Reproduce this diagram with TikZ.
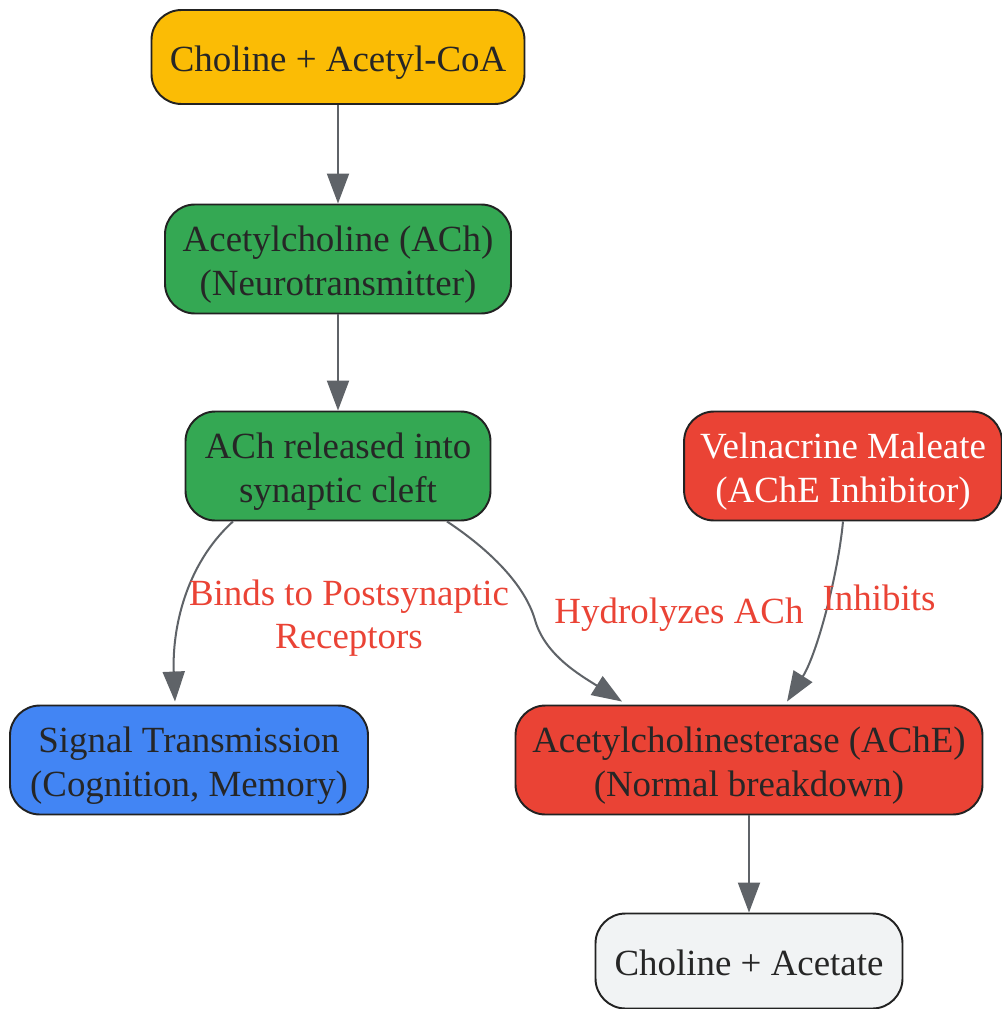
\documentclass[tikz,border=0pt]{standalone}
\usepackage{fontspec}
\setmainfont{Liberation Serif}
\usetikzlibrary{arrows.meta}
\definecolor{achyellow}{HTML}{FBBC05}
\definecolor{achgreen}{HTML}{34A853}
\definecolor{achblue}{HTML}{4285F4}
\definecolor{achred}{HTML}{EA4335}
\definecolor{achgray}{HTML}{F1F3F4}
\definecolor{achline}{HTML}{5F6368}
\definecolor{achborder}{HTML}{222222}
\definecolor{achtext}{HTML}{262626}
\newcommand{\boxstrut}{\rule[-4.6pt]{0pt}{25.6pt}}

\begin{document}
\begin{tikzpicture}[
    box/.style={draw=achborder, line width=1.1pt, rounded corners=0.6cm, align=center, inner xsep=0.32cm, text=achtext, minimum height=2.18cm, font=\fontsize{21}{24.6}\selectfont},
    flow/.style={draw=achline, line width=1.15pt, -{Triangle[length=0.6cm, width=0.44cm]}},
    edgelabel/.style={text=achred, align=center, font=\fontsize{21}{24.4}\selectfont}
]
    \useasboundingbox (0,0) rectangle (20.02,-20.18);

    % Synthesis
    \node[box, fill=achyellow, minimum height=1.88cm, minimum width=7.46cm] (cholacetyl) at (6.76,-1.14) {\boxstrut Choline + Acetyl-CoA};
    \node[box, fill=achgreen, minimum width=6.92cm] (ach) at (6.76,-5.18) {\boxstrut Acetylcholine (ACh)\\(Neurotransmitter)};
    \node[box, fill=achgreen, minimum width=6.1cm] (release) at (6.76,-9.32) {\boxstrut ACh released into\\synaptic cleft};

    % Inhibitor
    \node[box, fill=achred, text=white, minimum width=6.3cm] (velnacrine) at (16.86,-9.32) {\boxstrut Velnacrine Maleate\\(AChE Inhibitor)};

    % Targets
    \node[box, fill=achblue, minimum width=7.16cm] (signal) at (3.78,-15.2) {\boxstrut Signal Transmission\\(Cognition, Memory)};
    \node[box, fill=achred, minimum width=9.34cm] (ache) at (14.98,-15.2) {\boxstrut Acetylcholinesterase (AChE)\\(Normal breakdown)};
    \node[box, fill=achgray, minimum height=1.9cm, minimum width=6.14cm] (products) at (14.98,-19.22) {\boxstrut Choline + Acetate};

    % Connections
    \draw[flow] (cholacetyl) -- (ach);
    \draw[flow] (ach) -- (release);
    \draw[flow] ([xshift=-2.1cm]release.south) .. controls (3.7,-11.3) and (3.44,-12.6) .. ([xshift=-0.28cm, yshift=0.06cm]signal.north);
    \draw[flow] ([xshift=2.18cm]release.south) .. controls (9.8,-11.0) and (10.5,-11.7) .. (10.7,-12.4) .. controls (10.9,-13.1) and (11.6,-13.5) .. ([xshift=-2.54cm, yshift=0.06cm]ache.north);
    \draw[flow] (velnacrine.south) .. controls (16.76,-11.5) and (16.34,-13.08) .. ([xshift=0.76cm, yshift=0.06cm]ache.north);
    \draw[flow] (ache) -- (products);

    % Labels
    \node[edgelabel] (bindlabel) at (6.98,-12.36) {Binds to Postsynaptic\\Receptors};
    \node[edgelabel] (hydrolabel) at (13.58,-12.3) {Hydrolyzes ACh};
    \node[edgelabel] (inhiblabel) at (17.58,-11.96) {Inhibits};
\end{tikzpicture}
\end{document}
